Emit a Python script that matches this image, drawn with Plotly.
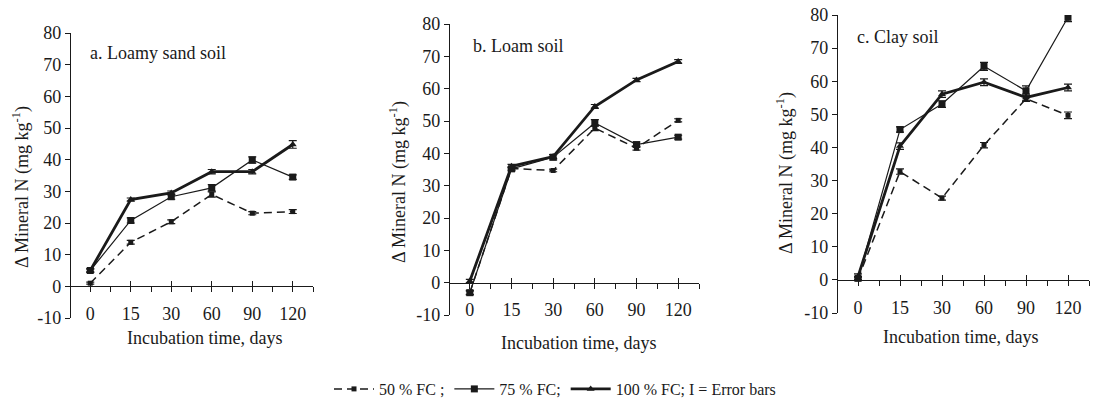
import plotly.graph_objects as go

W, H = 1093, 400
days = ["0", "15", "30", "60", "90", "120"]
pos = list(range(len(days)))
y_ticks = [-10, 0, 10, 20, 30, 40, 50, 60, 70, 80]
y_ticktext = ["-10", "0", "10", "20", "30", "40", "50", "60", "70", "80"]

# Panel a: Loamy sand soil
a50 = [1.0, 13.9, 20.4, 29.0, 23.1, 23.6]
a75 = [5.0, 20.8, 28.3, 31.1, 39.9, 34.5]
a100 = [5.0, 27.4, 29.5, 36.2, 36.2, 44.8]
a50e = [0.3, 0.6, 0.6, 0.8, 0.5, 0.6]
a75e = [0.5, 0.8, 0.8, 1.0, 1.0, 0.7]
a100e = [0.5, 0.5, 0.6, 0.7, 0.7, 1.2]
# Panel b: Loam soil
b50 = [-3.1, 35.3, 34.7, 47.8, 41.6, 50.2]
b75 = [-3.1, 35.2, 38.8, 49.4, 42.7, 45.0]
b100 = [0.5, 36.0, 39.0, 54.5, 62.7, 68.4]
b50e = [0.5, 0.4, 0.4, 0.8, 0.6, 0.5]
b75e = [0.7, 0.6, 0.8, 1.0, 0.8, 0.6]
b100e = [0.5, 0.6, 0.6, 0.6, 0.5, 0.6]
# Panel c: Clay soil
c50 = [0.3, 32.7, 24.7, 40.7, 54.7, 49.7]
c75 = [0.5, 45.4, 53.1, 64.5, 57.1, 79.3]
c100 = [1.0, 40.4, 56.1, 59.7, 55.1, 58.1]
c50e = [0.5, 0.8, 0.6, 0.8, 0.8, 1.0]
c75e = [0.5, 0.8, 1.0, 1.2, 1.5, 1.3]
c100e = [0.8, 1.0, 1.0, 1.0, 1.0, 1.0]

panel_titles = ["a. Loamy sand soil", "b. Loam soil", "c. Clay soil"]
series_names = ["50 % FC ;", "75 % FC;", "100 % FC; I = Error bars"]
x_title = "Incubation time, days"
y_title = "\u0394 Mineral N (mg kg<sup>-1</sup>)"

panels = [
    [(a50, a50e), (a75, a75e), (a100, a100e)],
    [(b50, b50e), (b75, b75e), (b100, b100e)],
    [(c50, c50e), (c75, c75e), (c100, c100e)],
]

# layout geometry in pixels (left, right, top, bottom of each plot area)
boxes = [(70, 313, 33, 318), (449, 699, 24, 315), (837, 1089, 15, 313)]
ytitle_pos = [(21, 187), (398, 182), (785, 173)]
xtitle_pos = [(204, 338), (578, 343), (960, 337)]
ptitle_pos = [(88, 53), (471, 46), (855, 37)]

FONT = "Liberation Serif, Times New Roman, serif"
INK = "#1a1a1a"
FS = 18
YMIN, YMAX = -10, 80

styles = [
    dict(line=dict(color=INK, width=1.5, dash="8px,5px"),
         marker=dict(symbol="square", size=5, color=INK)),
    dict(line=dict(color=INK, width=1.2),
         marker=dict(symbol="square", size=7, color=INK)),
    dict(line=dict(color=INK, width=2.8),
         marker=dict(symbol="triangle-up", size=7, color=INK)),
]

fig = go.Figure()
layout = {}
annotations = []

for p in range(3):
    l, r, t, b = boxes[p]
    xd = [l / W, r / W]
    yd = [1 - b / H, 1 - t / H]
    zero_pos = yd[0] + (yd[1] - yd[0]) * (0 - YMIN) / (YMAX - YMIN)
    xa = "x" if p == 0 else f"x{2*p+1}"
    ya = "y" if p == 0 else f"y{p+1}"
    xkey = "xaxis" if p == 0 else f"xaxis{2*p+1}"
    xkey2 = f"xaxis{2*p+2}"
    ykey = "yaxis" if p == 0 else f"yaxis{p+1}"

    for s in range(3):
        vals, errs = panels[p][s]
        fig.add_trace(go.Scatter(
            x=pos, y=vals, mode="lines+markers",
            name=series_names[s], showlegend=(p == 0),
            xaxis=xa, yaxis=ya,
            error_y=dict(type="data", array=errs, visible=True,
                         color=INK, thickness=1.2, width=4),
            **styles[s]))

    layout[xkey] = dict(
        domain=xd, range=[-0.5, 5.5], anchor="free", position=zero_pos,
        automargin=False,
        tickvals=pos, ticktext=days, ticks="outside", ticklen=5,
        tickcolor=INK, showline=True, linecolor=INK, linewidth=1.2,
        showgrid=False, zeroline=False, ticklabelstandoff=6,
        tickfont=dict(family=FONT, size=FS, color=INK),
        minor=dict(tickvals=[i + 0.5 for i in pos], ticks="outside",
                   ticklen=5, tickcolor=INK, showgrid=False),
    )
    layout[xkey2] = dict(
        domain=xd, range=[-0.5, 5.5], anchor="free", position=zero_pos,
        automargin=False,
        overlaying=xa, tickvals=pos, ticks="inside", ticklen=5,
        tickcolor=INK, showticklabels=False, showline=False,
        showgrid=False, zeroline=False,
    )
    layout[ykey] = dict(
        domain=yd, range=[YMIN, YMAX], anchor="free", position=xd[0],
        automargin=False,
        tickvals=y_ticks, ticktext=y_ticktext, ticks="outside", ticklen=5,
        tickcolor=INK, showline=True, linecolor=INK, linewidth=1.2,
        showgrid=False, zeroline=False,
        tickfont=dict(family=FONT, size=FS, color=INK),
    )

    tx, ty = ytitle_pos[p]
    annotations.append(dict(text=y_title, x=tx / W, y=1 - ty / H,
                            xref="paper", yref="paper", showarrow=False,
                            textangle=-90, xanchor="center", yanchor="middle",
                            font=dict(family=FONT, size=FS, color=INK)))
    tx, ty = xtitle_pos[p]
    annotations.append(dict(text=x_title, x=tx / W, y=1 - ty / H,
                            xref="paper", yref="paper", showarrow=False,
                            xanchor="center", yanchor="middle",
                            font=dict(family=FONT, size=FS, color=INK)))
    tx, ty = ptitle_pos[p]
    annotations.append(dict(text=panel_titles[p], x=tx / W, y=1 - ty / H,
                            xref="paper", yref="paper", showarrow=False,
                            xanchor="left", yanchor="middle",
                            font=dict(family=FONT, size=FS, color=INK)))

# empty traces to register the overlay (upward tick) axes
for p in range(3):
    fig.add_trace(go.Scatter(x=[], y=[], xaxis=f"x{2*p+2}",
                             yaxis="y" if p == 0 else f"y{p+1}",
                             showlegend=False, hoverinfo="skip"))

fig.update_layout(
    width=W, height=H, margin=dict(l=0, r=0, t=0, b=0, autoexpand=False),
    plot_bgcolor="white", paper_bgcolor="white",
    font=dict(family=FONT, size=16, color=INK),
    showlegend=True,
    legend=dict(orientation="h", x=555 / W, y=1 - 389 / H,
                xanchor="center", yanchor="middle",
                font=dict(family=FONT, size=16, color=INK),
                itemwidth=40, tracegroupgap=0, bgcolor="rgba(0,0,0,0)"),
    annotations=annotations,
    **layout,
)

fig.write_html("out.html",
               config={"displayModeBar": False},
               post_script="document.body.style.margin='0';"
                           "document.body.style.overflow='hidden';")
